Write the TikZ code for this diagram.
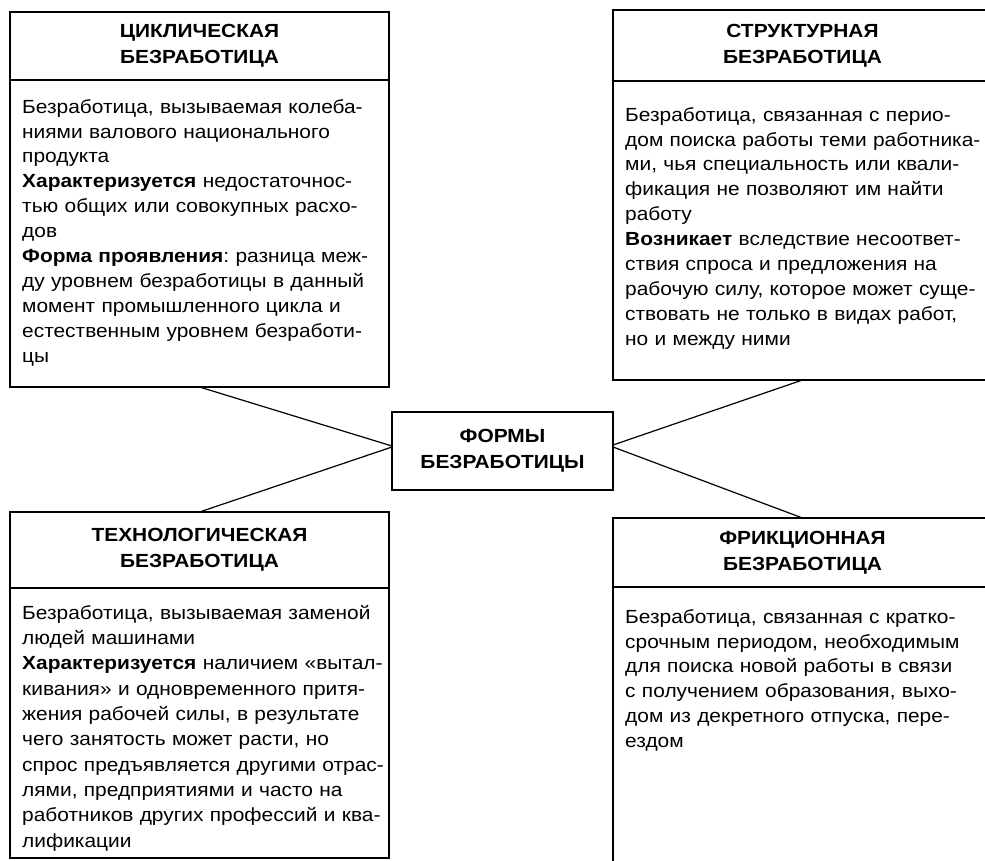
\documentclass[tikz,border=0pt]{standalone}
\usepackage{fontspec}
\setmainfont[FakeStretch=1.1]{Liberation Sans}
\usepackage{tikz}
\usetikzlibrary{positioning}
\frenchspacing

\begin{document}
\begin{tikzpicture}[
    x=1pt, y=-1pt,
    headbox/.style={rectangle, draw, line width=1.8pt, outer sep=0pt, inner sep=0pt, minimum width=379pt, align=center, font=\bfseries\fontsize{19}{26}\selectfont},
    bodybox/.style={rectangle, draw, line width=1.8pt, outer sep=0pt, inner sep=0pt, minimum width=379pt},
    bodytext/.style={inner sep=0pt, text width=368pt, align=left, font=\fontsize{19}{24.9}\selectfont},
    formbox/.style={headbox, minimum width=221pt, minimum height=78pt},
    link/.style={line width=1.2pt}
]
    \clip (0,0) rectangle (985,860);

    \node[headbox, anchor=north west, minimum height=68pt] (cyclhead) at (10,12) {ЦИКЛИЧЕСКАЯ\\БЕЗРАБОТИЦА};
    \node[bodybox, below=0pt of cyclhead, minimum height=307pt] (cyclbody) {};
    \node[bodytext, below right=19pt and 12pt of cyclbody.north west] (cycltext) {Безработица, вызываемая колеба-\\ниями валового национального\\продукта\\\textbf{Характеризуется} недостаточнос-\\тью общих или совокупных расхо-\\дов\\\textbf{Форма проявления}: разница меж-\\ду уровнем безработицы в данный\\момент промышленного цикла и\\естественным уровнем безработи-\\цы};

    \node[headbox, anchor=north west, minimum height=71pt] (structhead) at (613,10) {СТРУКТУРНАЯ\\БЕЗРАБОТИЦА};
    \node[bodybox, below=0pt of structhead, minimum height=299pt] (structbody) {};
    \node[bodytext, below right=26pt and 12pt of structbody.north west] (structtext) {Безработица, связанная с перио-\\дом поиска работы теми работника-\\ми, чья специальность или квали-\\фикация не позволяют им найти\\работу\\\textbf{Возникает} вследствие несоответ-\\ствия спроса и предложения на\\рабочую силу, которое может суще-\\ствовать не только в видах работ,\\но и между ними};

    \node[formbox] (forms) at (502.5,451) {ФОРМЫ\\БЕЗРАБОТИЦЫ};

    \node[headbox, anchor=north west, minimum height=76pt] (techhead) at (10,512) {ТЕХНОЛОГИЧЕСКАЯ\\БЕЗРАБОТИЦА};
    \node[bodybox, below=0pt of techhead, minimum height=270pt] (techbody) {};
    \node[bodytext, below right=17pt and 12pt of techbody.north west, font=\fontsize{19}{25.3}\selectfont] (techtext) {Безработица, вызываемая заменой\\людей машинами\\\textbf{Характеризуется} наличием «вытал-\\кивания» и одновременного притя-\\жения рабочей силы, в результате\\чего занятость может расти, но\\спрос предъявляется другими отрас-\\лями, предприятиями и часто на\\работников других профессий и ква-\\лификации};

    \node[headbox, anchor=north west, minimum height=69pt] (frichead) at (613,518) {ФРИКЦИОННАЯ\\БЕЗРАБОТИЦА};
    \node[bodybox, below=0pt of frichead, minimum height=300pt] (fricbody) {};
    \node[bodytext, below right=22pt and 12pt of fricbody.north west] (frictext) {Безработица, связанная с кратко-\\срочным периодом, необходимым\\для поиска новой работы в связи\\с получением образования, выхо-\\дом из декретного отпуска, пере-\\ездом};

    \draw[link] (cyclbody.south) -- ([yshift=5pt]forms.west);
    \draw[link] (techhead.north) -- ([yshift=4pt]forms.west);
    \draw[link] (structbody.south) -- ([yshift=6pt]forms.east);
    \draw[link] (frichead.north) -- ([yshift=4pt]forms.east);
\end{tikzpicture}
\end{document}
